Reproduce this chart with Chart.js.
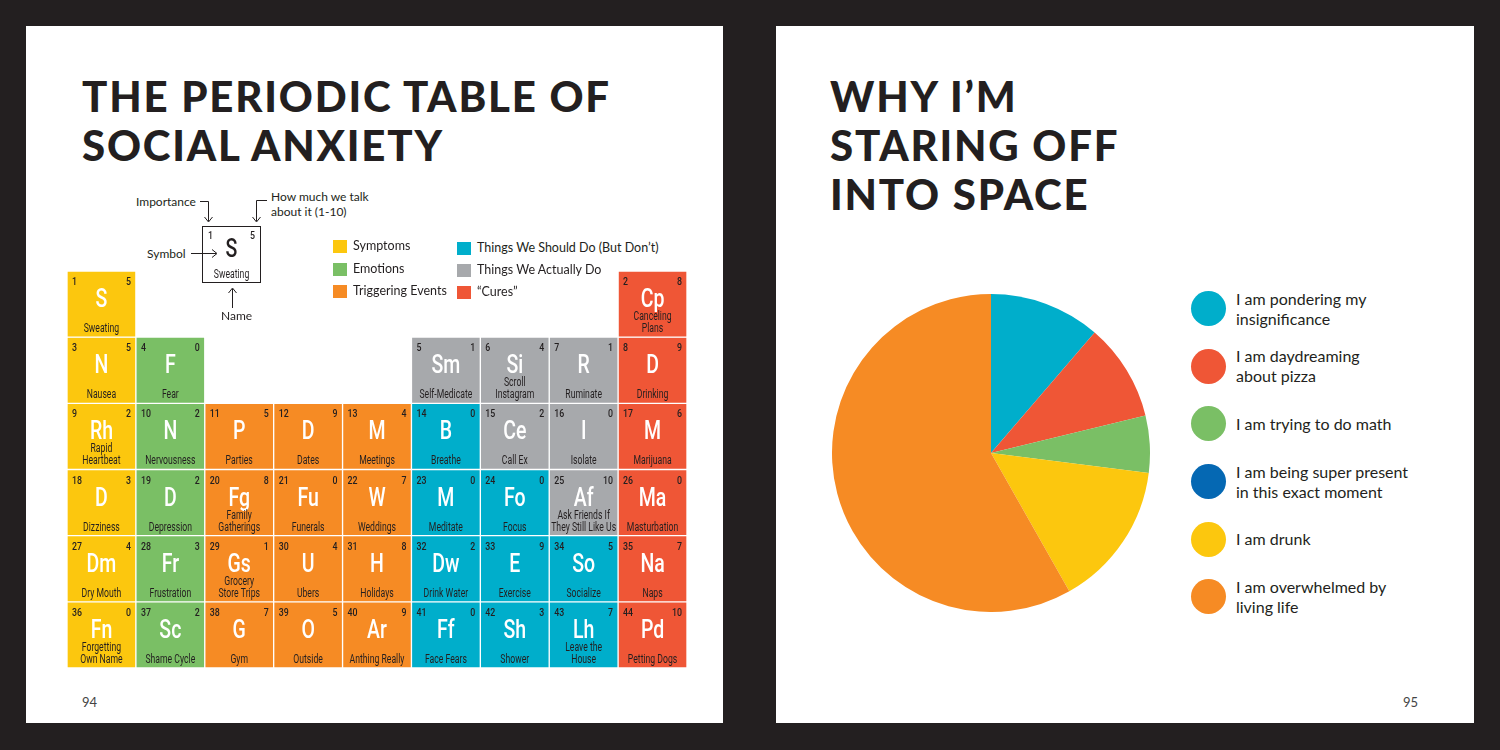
<!DOCTYPE html>
<html>
<head>
<meta charset="utf-8">
<script src="https://cdn.jsdelivr.net/npm/chart.js@4.4.1/dist/chart.umd.min.js"></script>
<style>
  html, body { margin: 0; padding: 0; }
  body { width: 1500px; height: 750px; background: #231f20; position: relative; overflow: hidden; font-family: 'Lato', 'Open Sans', sans-serif; color: #231f20; }
  .page { position: absolute; top: 26px; width: 697px; height: 697px; background: #fff; }
  #leftPage { left: 26px; }
  #rightPage { left: 776px; width: 698px; }
  .title { position: absolute; font-family: 'Lato', sans-serif; font-weight: 900; font-size: 42px; line-height: 49px; letter-spacing: 1.8px; white-space: nowrap; }
  .pageNum { position: absolute; top: 668px; font-size: 13px; color: #444; }
  .box { position: absolute; }
  .legendLeft { position: absolute; font-size: 12.5px; }
  .legendLeft .item { position: absolute; white-space: nowrap; height: 14px; line-height: 14px; }
  .legendLeft .sw { position: absolute; left: 0; top: 0; width: 14px; height: 13px; }
  .legendLeft .tx { position: absolute; left: 20px; top: -1px; }
  #pieLegend { position: absolute; left: 1191px; top: 280px; width: 280px; }
  #pieLegend .item { height: 57.6px; display: flex; align-items: center; }
  #pieLegend .dot { width: 35px; height: 35px; border-radius: 50%; flex: none; margin-right: 10px; }
  #pieLegend .tx { font-size: 16px; line-height: 20px; }
  .note { position: absolute; font-size: 12px; white-space: nowrap; line-height: 15px; }
</style>
</head>
<body>
<div class="page" id="leftPage"></div>
<div class="page" id="rightPage"></div>

<div class="title" style="left:82px; top:72px;">THE PERIODIC TABLE OF<br>SOCIAL ANXIETY</div>
<div class="title" style="left:830px; top:72px;">WHY I’M<br>STARING OFF<br>INTO SPACE</div>

<!-- key diagram -->
<svg class="box" style="left:0; top:0;" width="750" height="340">
  <rect x="202.5" y="226.5" width="58" height="56" fill="#fff" stroke="#231f20" stroke-width="1"/>
  <g stroke="#231f20" stroke-width="1" fill="none">
    <path d="M200 201.5 H208.5 V221"/>
    <path d="M204.5 217 L208.5 222 L212.5 217"/>
    <path d="M267 200.5 H256.5 V221"/>
    <path d="M252.5 217 L256.5 222 L260.5 217"/>
    <path d="M191 253.5 H216"/>
    <path d="M212 249.5 L217 253.5 L212 257.5"/>
    <path d="M232.5 308 V289"/>
    <path d="M228.5 293 L232.5 288 L236.5 293"/>
  </g>
</svg>
<canvas id="keyCell" class="box" style="left:203px; top:227px;" width="57" height="55"></canvas>
<div class="note" style="left:136px; top:194px;">Importance</div>
<div class="note" style="left:271px; top:189px;">How much we talk<br>about it (1-10)</div>
<div class="note" style="left:147px; top:246px;">Symbol</div>
<div class="note" style="left:221px; top:308px;">Name</div>

<div class="legendLeft" id="tableLegend"></div>

<div class="box" style="left:67px; top:271px; width:620px; height:397px;">
  <canvas id="tableChart"></canvas>
</div>

<div class="box" style="left:832px; top:294px; width:318px; height:318px;">
  <canvas id="pieChart"></canvas>
</div>
<div id="pieLegend"></div>

<div class="pageNum" style="left:82px; top:694px;">94</div>
<div class="pageNum" style="left:1403px; top:694px;">95</div>

<script>
// ---- periodic table data (rows top to bottom, 9 columns) ----
const tableColumns = ['1', '2', '3', '4', '5', '6', '7', '8', '9'];

const tableSymbols = [
  ['S', null, null, null, null, null, null, null, 'Cp'],
  ['N', 'F', null, null, null, 'Sm', 'Si', 'R', 'D'],
  ['Rh', 'N', 'P', 'D', 'M', 'B', 'Ce', 'I', 'M'],
  ['D', 'D', 'Fg', 'Fu', 'W', 'M', 'Fo', 'Af', 'Ma'],
  ['Dm', 'Fr', 'Gs', 'U', 'H', 'Dw', 'E', 'So', 'Na'],
  ['Fn', 'Sc', 'G', 'O', 'Ar', 'Ff', 'Sh', 'Lh', 'Pd']
];

const tableNames = [
  ['Sweating', null, null, null, null, null, null, null, 'Canceling\nPlans'],
  ['Nausea', 'Fear', null, null, null, 'Self-Medicate', 'Scroll\nInstagram', 'Ruminate', 'Drinking'],
  ['Rapid\nHeartbeat', 'Nervousness', 'Parties', 'Dates', 'Meetings', 'Breathe', 'Call Ex', 'Isolate', 'Marijuana'],
  ['Dizziness', 'Depression', 'Family\nGatherings', 'Funerals', 'Weddings', 'Meditate', 'Focus', 'Ask Friends If\nThey Still Like Us', 'Masturbation'],
  ['Dry Mouth', 'Frustration', 'Grocery\nStore Trips', 'Ubers', 'Holidays', 'Drink Water', 'Exercise', 'Socialize', 'Naps'],
  ['Forgetting\nOwn Name', 'Shame Cycle', 'Gym', 'Outside', 'Anthing Really', 'Face Fears', 'Shower', 'Leave the\nHouse', 'Petting Dogs']
];

// importance (top left number)
const tableImportance = [
  [1, null, null, null, null, null, null, null, 2],
  [3, 4, null, null, null, 5, 6, 7, 8],
  [9, 10, 11, 12, 13, 14, 15, 16, 17],
  [18, 19, 20, 21, 22, 23, 24, 25, 26],
  [27, 28, 29, 30, 31, 32, 33, 34, 35],
  [36, 37, 38, 39, 40, 41, 42, 43, 44]
];

// how much we talk about it (top right number)
const tableTalk = [
  [5, null, null, null, null, null, null, null, 8],
  [5, 0, null, null, null, 1, 4, 1, 9],
  [2, 2, 5, 9, 4, 0, 2, 0, 6],
  [3, 2, 8, 0, 7, 0, 0, 10, 0],
  [4, 3, 1, 4, 8, 2, 9, 5, 7],
  [0, 2, 7, 5, 9, 0, 3, 7, 10]
];

// Y symptoms, G emotions, O triggering events, B should do, A actually do, R cures
const tableGroups = [
  ['Y', null, null, null, null, null, null, null, 'R'],
  ['Y', 'G', null, null, null, 'A', 'A', 'A', 'R'],
  ['Y', 'G', 'O', 'O', 'O', 'B', 'A', 'A', 'R'],
  ['Y', 'G', 'O', 'O', 'O', 'B', 'B', 'A', 'R'],
  ['Y', 'G', 'O', 'O', 'O', 'B', 'B', 'B', 'R'],
  ['Y', 'G', 'O', 'O', 'O', 'B', 'B', 'B', 'R']
];

const groupKeys = ['Y', 'G', 'O', 'B', 'A', 'R'];
const groupLabels = ['Symptoms', 'Emotions', 'Triggering Events', 'Things We Should Do (But Don’t)', 'Things We Actually Do', '“Cures”'];
const groupColors = ['#fcc70e', '#7abf65', '#f68b24', '#00aecb', '#a7a9ac', '#ef5636'];

// ---- pie data ----
const pieLabels = [
  'I am pondering my\ninsignificance',
  'I am daydreaming\nabout pizza',
  'I am trying to do math',
  'I am being super present\nin this exact moment',
  'I am drunk',
  'I am overwhelmed by\nliving life'
];
const pieValues = [11.3, 9.9, 5.8, 0, 14.8, 58.2];
const pieColors = ['#00aecb', '#ef5636', '#7abf65', '#0568b3', '#fcc70e', '#f68b24'];

const ink = '#231f20';
const cellFont = '"Roboto", "DejaVu Sans", sans-serif';

function colorFor(g) {
  return g ? groupColors[groupKeys.indexOf(g)] : 'rgba(0,0,0,0)';
}

// draws text squeezed horizontally to look like a condensed face
function narrowText(ctx, text, x, y, font, color, align, squeeze) {
  ctx.save();
  ctx.font = font;
  ctx.fillStyle = color;
  ctx.textAlign = align;
  ctx.textBaseline = 'alphabetic';
  ctx.translate(x, y);
  ctx.scale(squeeze, 1);
  ctx.fillText(text, 0, 0);
  ctx.restore();
}

// offsets are tuned for a 66px tall cell and scaled for other heights
function drawCell(ctx, left, top, w, h, sym, name, imp, talk, symColor) {
  const k = h / 66;
  narrowText(ctx, String(imp), left + 5, top + 14 * k, '500 11px ' + cellFont, ink, 'left', 0.8);
  narrowText(ctx, String(talk), left + w - 5, top + 14 * k, '500 11px ' + cellFont, ink, 'right', 0.8);
  narrowText(ctx, sym, left + w / 2, top + 36 * k, '500 25px ' + cellFont, symColor, 'center', 0.78);
  const lines = name.split('\n');
  lines.forEach((line, i) => {
    const y = top + 61 * k - (lines.length - 1 - i) * 12;
    narrowText(ctx, line, left + w / 2, y, '400 12px ' + cellFont, ink, 'center', 0.72);
  });
}

// left legend
const legendBox = document.getElementById('tableLegend');
const legendSpots = [[333, 240], [333, 263], [333, 285], [457, 242], [457, 264], [457, 286]];
groupLabels.forEach((label, i) => {
  const item = document.createElement('div');
  item.className = 'item';
  item.style.left = legendSpots[i][0] + 'px';
  item.style.top = legendSpots[i][1] + 'px';
  item.innerHTML = '<div class="sw" style="background:' + groupColors[i] + '"></div><div class="tx"></div>';
  item.querySelector('.tx').textContent = label;
  legendBox.appendChild(item);
});

// key cell
const keyCtx = document.getElementById('keyCell').getContext('2d');
drawCell(keyCtx, 0, 0, 57, 55, 'S', 'Sweating', 1, 5, ink);

// periodic table as floating bars, one dataset per row
const tableDatasets = tableSymbols.map((row, r) => ({
  label: 'row ' + (r + 1),
  data: row.map(s => (s ? [r, r + 1] : null)),
  backgroundColor: tableGroups[r].map(colorFor),
  borderColor: '#ffffff',
  borderWidth: 1,
  borderSkipped: false,
  grouped: false,
  barPercentage: 1,
  categoryPercentage: 1
}));

const cellTextPlugin = {
  id: 'cellText',
  afterDatasetsDraw(chart) {
    const ctx = chart.ctx;
    chart.data.datasets.forEach((ds, r) => {
      const meta = chart.getDatasetMeta(r);
      meta.data.forEach((el, c) => {
        if (!tableSymbols[r][c]) return;
        const p = el.getProps(['x', 'y', 'base', 'width'], true);
        const left = p.x - p.width / 2;
        const top = Math.min(p.y, p.base);
        const h = Math.abs(p.base - p.y);
        drawCell(ctx, left, top, p.width, h, tableSymbols[r][c], tableNames[r][c],
          tableImportance[r][c], tableTalk[r][c], '#ffffff');
      });
    });
  }
};

new Chart(document.getElementById('tableChart'), {
  type: 'bar',
  data: { labels: tableColumns, datasets: tableDatasets },
  options: {
    responsive: true,
    maintainAspectRatio: false,
    animation: false,
    layout: { padding: 0 },
    scales: {
      x: { display: false },
      y: { display: false, min: 0, max: 6, reverse: true }
    },
    plugins: { legend: { display: false }, tooltip: { enabled: false } }
  },
  plugins: [cellTextPlugin]
});

// pie chart
new Chart(document.getElementById('pieChart'), {
  type: 'pie',
  data: {
    labels: pieLabels,
    datasets: [{
      data: pieValues,
      backgroundColor: pieColors,
      borderWidth: 0
    }]
  },
  options: {
    responsive: true,
    maintainAspectRatio: false,
    animation: false,
    layout: { padding: 0 },
    plugins: { legend: { display: false }, tooltip: { enabled: false } }
  }
});

// pie legend
const pieLegend = document.getElementById('pieLegend');
pieLabels.forEach((label, i) => {
  const item = document.createElement('div');
  item.className = 'item';
  const dot = document.createElement('div');
  dot.className = 'dot';
  dot.style.background = pieColors[i];
  const tx = document.createElement('div');
  tx.className = 'tx';
  tx.innerText = label;
  item.appendChild(dot);
  item.appendChild(tx);
  pieLegend.appendChild(item);
});
</script>
</body>
</html>
